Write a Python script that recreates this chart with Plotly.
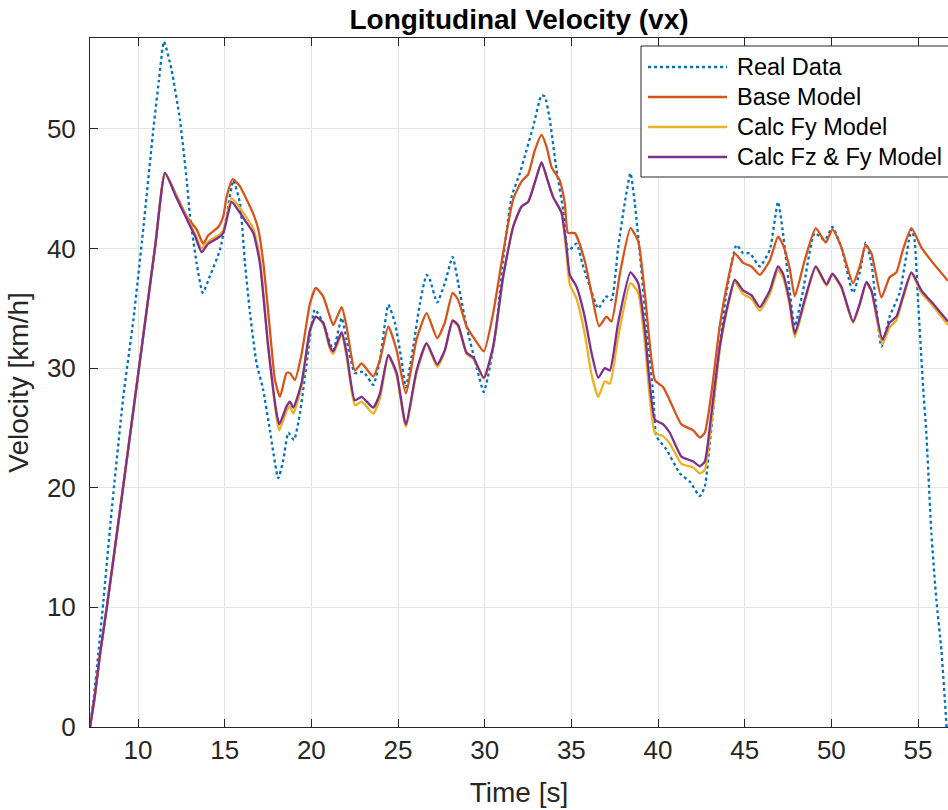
import plotly.graph_objects as go

# ---------------- data ----------------
series_names = ["Real Data", "Base Model", "Calc Fy Model", "Calc Fz & Fy Model"]
series_colors = ["#0072BD", "#D95319", "#EDB120", "#7E2F8E"]
series_dash = ["dot", "solid", "solid", "solid"]

t_real = [7.23, 7.45, 7.7, 8.0, 8.48, 9.15, 9.73, 10.3, 10.88, 11.2, 11.5, 11.94, 12.42, 12.81, 13.0,
          13.38, 13.73, 14.15, 14.73, 15.11, 15.5, 15.88, 16.17, 16.46, 16.84, 17.22, 17.61, 18.09,
          18.38, 18.67, 19.0, 19.34, 19.73, 20.2, 20.68, 21.26, 21.75, 22.03, 22.51, 23.0, 23.57,
          23.96, 24.44, 24.82, 25.2, 25.45, 25.88, 26.26, 26.65, 26.84, 27.26, 27.7, 28.15, 28.47,
          28.95, 29.53, 29.95, 30.3, 30.68, 31.06, 31.55, 32.03, 32.41, 32.8, 33.28, 33.47, 33.76,
          34.14, 34.53, 34.81, 35.3, 35.68, 36.07, 36.55, 37.03, 37.32, 37.7, 38.08, 38.41, 38.66,
          38.95, 39.33, 39.72, 39.91, 40.49, 41.26, 41.84, 42.41, 42.7, 42.99, 43.37, 43.95, 44.53,
          44.91, 45.3, 45.87, 46.45, 46.92, 47.21, 47.6, 47.89, 48.37, 49.04, 49.62, 50.06, 50.58,
          51.25, 51.64, 51.98, 52.31, 52.89, 53.36, 53.94, 54.62, 54.8, 55.0, 55.29, 55.48, 55.77,
          56.06, 56.35, 56.65]
v_real = [0, 2.5, 6, 10.5, 18.1, 27.6, 34.0, 41.6, 49.9, 54.0, 57.3, 54.9, 50.75, 45.7, 42.7,
          38.8, 36.3, 37.7, 39.9, 42.7, 45.7, 43.8, 38.8, 34.6, 30.4, 28.2, 24.8, 20.8,
          22.3, 24.6, 24.0, 26.2, 30.4, 34.9, 33.8, 31.5, 34.2, 32.4, 29.6, 29.7, 28.6,
          30.7, 35.3, 33.8, 30.7, 28.4, 31.8, 35.4, 37.8, 37.4, 35.5, 37.1, 39.3, 37.1,
          33.5, 30.1, 28.0, 30.1, 33.5, 39.0, 44.3, 46.3, 48.2, 50.2, 52.8, 52.7, 50.75,
          46.6, 43.2, 39.8, 40.4, 38.5, 36.8, 35.0, 36.0, 35.7, 40.1, 43.8, 46.3, 43.8,
          39.6, 33.5, 27.9, 24.3, 23.2, 21.2, 20.5, 19.3, 20.1, 23.7, 29.3, 36.3, 40.3,
          39.6, 39.6, 38.5, 39.9, 43.9, 41.3, 36.4, 33.5, 36.5, 41.3, 40.7, 41.8, 40.1,
          36.3, 38.0, 40.5, 38.8, 31.8, 34.3, 36.3, 41.6, 40.7, 35.7, 28.5, 24.6, 16.2,
          10.6, 6.4, 0]

t_base = [7.23, 7.5, 7.8, 8.2, 8.96, 10.0, 11.0, 11.56, 12.2, 12.8, 13.38, 13.76, 14.05, 14.63,
          14.92, 15.11, 15.46, 15.88, 16.3, 16.65, 16.94, 17.23, 17.61, 17.9, 18.19, 18.57, 18.76,
          19.05, 19.44, 19.92, 20.26, 20.68, 21.07, 21.26, 21.75, 22.03, 22.51, 22.9, 23.57, 23.96,
          24.44, 24.92, 25.45, 26.07, 26.65, 27.26, 27.7, 28.15, 28.47, 28.95, 29.34, 29.95, 30.49,
          31.06, 31.64, 32.12, 32.51, 32.89, 33.28, 33.57, 33.86, 34.33, 34.62, 34.81, 35.2, 35.77,
          36.16, 36.6, 37.03, 37.32, 37.8, 38.41, 38.86, 39.24, 39.82, 40.3, 40.68, 41.35, 42.03,
          42.41, 42.7, 43.08, 43.56, 44.04, 44.43, 44.91, 45.39, 45.87, 46.45, 46.92, 47.21, 47.6,
          47.89, 48.46, 49.1, 49.68, 50.06, 50.58, 51.25, 51.64, 51.98, 52.31, 52.89, 53.36, 53.75,
          54.13, 54.62, 55.19, 55.86, 56.73]
v_base = [0, 2.5, 6, 10, 18.1, 29.4, 40.3, 46.3, 44.5, 42.7, 41.6, 40.4, 41.1, 41.8,
          42.7, 44.3, 45.8, 45.2, 44.0, 42.9, 41.6, 38.8, 33.2, 29.0, 27.6, 29.6, 29.6,
          29.0, 31.2, 35.4, 36.7, 36.0, 34.3, 33.6, 35.1, 33.5, 29.8, 30.4, 29.3, 30.7,
          33.5, 31.5, 27.9, 32.4, 34.6, 32.5, 33.8, 36.3, 35.7, 33.5, 32.6, 31.4, 34.6,
          39.6, 44.1, 45.6, 46.2, 48.2, 49.5, 48.5, 46.8, 45.7, 43.8, 41.3, 41.3, 39.0,
          36.3, 33.5, 34.3, 33.9, 37.9, 41.7, 40.6, 36.3, 29.0, 28.4, 27.3, 25.3, 24.8,
          24.2, 24.6, 27.9, 33.5, 37.4, 39.6, 38.8, 38.5, 37.8, 39.0, 41.0, 40.3, 38.3,
          36.0, 39.0, 41.7, 40.5, 41.6, 40.1, 37.1, 38.5, 40.3, 39.6, 35.9, 37.6, 38.0,
          39.9, 41.7, 40.1, 38.8, 37.3]

t_model = [7.23, 7.5, 7.8, 8.2, 8.96, 10.0, 11.0, 11.56, 12.2, 12.8, 13.3, 13.67, 14.05, 14.63,
           14.92, 15.4, 15.78, 16.2, 16.65, 17.03, 17.51, 18.0, 18.15, 18.57, 18.76, 18.96, 19.44,
           19.92, 20.26, 20.68, 21.07, 21.26, 21.75, 22.03, 22.51, 22.9, 23.57, 23.96, 24.44, 24.92,
           25.45, 26.07, 26.65, 27.26, 27.7, 28.15, 28.47, 28.95, 29.34, 29.95, 30.49, 31.06, 31.64,
           32.12, 32.51, 32.89, 33.28, 33.67, 33.95, 34.43, 34.72, 34.91, 35.3, 35.77, 36.16, 36.55,
           36.93, 37.22, 37.7, 38.41, 38.86, 39.24, 39.82, 40.3, 40.68, 41.35, 42.03, 42.41, 42.7,
           43.08, 43.56, 44.04, 44.43, 44.91, 45.39, 45.87, 46.45, 46.92, 47.21, 47.6, 47.89, 48.46,
           49.1, 49.72, 50.06, 50.58, 51.25, 51.64, 52.02, 52.31, 52.95, 53.36, 53.75, 54.13, 54.62,
           55.19, 55.86, 56.73]
v_fzfy = [0, 2.5, 6, 10, 18.1, 29.4, 40.3, 46.3, 44.3, 42.5, 41.0, 39.7, 40.4, 40.9,
          41.3, 43.9, 43.2, 42.3, 41.3, 38.8, 31.8, 26.2, 25.3, 26.8, 27.2, 26.7, 28.8,
          33.2, 34.3, 33.8, 31.8, 31.4, 33.0, 31.3, 27.3, 27.6, 26.7, 27.9, 31.1, 29.6,
          25.3, 29.8, 32.1, 30.3, 31.5, 34.0, 33.6, 31.3, 30.9, 29.2, 31.8, 37.6, 41.8,
          43.5, 43.9, 45.5, 47.2, 45.5, 44.3, 43.0, 40.2, 37.8, 36.8, 34.3, 31.3, 29.2,
          30.0, 29.8, 33.8, 38.0, 37.1, 33.2, 25.7, 25.3, 24.6, 22.6, 22.2, 21.8, 22.2,
          26.2, 31.8, 35.4, 37.4, 36.5, 36.1, 35.1, 36.5, 38.5, 37.9, 35.5, 32.9, 35.7,
          38.5, 37.0, 37.9, 36.8, 33.9, 35.4, 37.2, 36.5, 32.4, 33.8, 34.3, 36.0, 38.0,
          36.5, 35.4, 33.9]
v_fy = [0, 2.5, 6, 10, 18.1, 29.4, 40.3, 46.3, 44.4, 42.6, 41.2, 40.0, 40.6, 41.1,
        41.5, 44.2, 43.6, 42.7, 41.7, 39.2, 31.8, 25.8, 24.8, 26.4, 26.8, 26.2, 28.5,
        33.1, 34.3, 33.7, 31.6, 31.2, 32.8, 31.0, 26.9, 27.2, 26.2, 27.5, 31.0, 29.4,
        25.1, 29.6, 32.0, 30.1, 31.4, 33.9, 33.5, 31.2, 30.8, 29.1, 31.7, 37.5, 41.8,
        43.5, 43.9, 45.5, 47.2, 45.5, 44.3, 43.0, 39.5, 37.0, 35.8, 32.9, 29.5, 27.6,
        28.9, 28.7, 32.6, 37.1, 36.3, 32.1, 24.6, 24.3, 23.7, 22.0, 21.7, 21.2, 21.5,
        25.4, 31.5, 35.2, 37.2, 36.2, 35.8, 34.8, 36.2, 38.2, 37.6, 35.2, 32.6, 35.5,
        38.4, 36.9, 37.8, 36.7, 33.8, 35.3, 37.1, 36.4, 32.0, 33.4, 34.0, 35.8, 37.9,
        36.3, 35.2, 33.6]

x_ticks = [10, 15, 20, 25, 30, 35, 40, 45, 50, 55]
y_ticks = [0, 10, 20, 30, 40, 50]
x_range = [7.23, 56.73]
y_range = [0, 57.6]

# ---------------- figure ----------------
FONT = "Liberation Sans, Arial, Helvetica, sans-serif"
INK = "#262626"
LW = 2.3
W, H = 948, 810
ML, MR, MT, MB = 90, 0, 38, 83
PW, PH = W - ML - MR, H - MT - MB


def px_x(p):  # pixel column -> paper x
    return (p - ML) / PW


def px_y(p):  # pixel row -> paper y
    return (H - MB - p) / PH


fig = go.Figure()
series = [(t_real, v_real), (t_base, v_base), (t_model, v_fy), (t_model, v_fzfy)]
for (tx, vy), name, col, dsh in zip(series, series_names, series_colors, series_dash):
    fig.add_trace(go.Scatter(x=tx, y=vy, mode="lines", name=name, showlegend=False,
                             line=dict(color=col, width=LW, dash=dsh,
                                       shape="spline", smoothing=0.5)))

# MATLAB-style legend box (right edge runs off the picture as in the reference)
shapes = [dict(type="rect", xref="paper", yref="paper",
               x0=px_x(641), x1=px_x(960), y0=px_y(177), y1=px_y(46),
               line=dict(color=INK, width=1), fillcolor="white", layer="above")]
annotations = []
for i, (name, col, dsh) in enumerate(zip(series_names, series_colors, series_dash)):
    row = 67 + 30 * i
    shapes.append(dict(type="line", xref="paper", yref="paper",
                       x0=px_x(648), x1=px_x(727), y0=px_y(row), y1=px_y(row),
                       line=dict(color=col, width=LW, dash=dsh), layer="above"))
    annotations.append(dict(text=name, xref="paper", yref="paper", x=px_x(735), y=px_y(row),
                            xanchor="left", yanchor="middle", showarrow=False,
                            font=dict(size=23.5, color="black", family=FONT)))

fig.update_layout(
    width=W, height=H,
    margin=dict(l=ML, r=MR, t=MT, b=MB),
    paper_bgcolor="white", plot_bgcolor="white",
    font=dict(family=FONT, color=INK),
    title=dict(text="Longitudinal Velocity (vx)", x=0.5, xref="paper", xanchor="center",
               y=1, yref="paper", yanchor="bottom", pad=dict(b=9),
               font=dict(size=28, weight="bold", color="black", family=FONT)),
    showlegend=False,
    shapes=shapes,
    annotations=annotations,
)
fig.update_xaxes(range=x_range, tickvals=x_ticks, ticks="inside", ticklen=8, tickcolor=INK,
                 showline=True, linecolor=INK, linewidth=1, mirror="ticks",
                 showgrid=True, gridcolor="#e3e3e3", gridwidth=1, zeroline=False,
                 tickfont=dict(size=26, color=INK, family=FONT),
                 title=dict(text="Time [s]", font=dict(size=28, color=INK, family=FONT), standoff=18))
fig.update_yaxes(range=y_range, tickvals=y_ticks, ticks="inside", ticklen=8, tickcolor=INK,
                 showline=True, linecolor=INK, linewidth=1, mirror=False,
                 showgrid=True, gridcolor="#e3e3e3", gridwidth=1, zeroline=False,
                 tickfont=dict(size=26, color=INK, family=FONT), ticklabelstandoff=8,
                 title=dict(text="Velocity [km/h]", font=dict(size=28, color=INK, family=FONT), standoff=10))

fig.write_html("out.html", config={"displayModeBar": False},
               post_script="document.body.style.margin='0';document.body.style.overflow='hidden';")
